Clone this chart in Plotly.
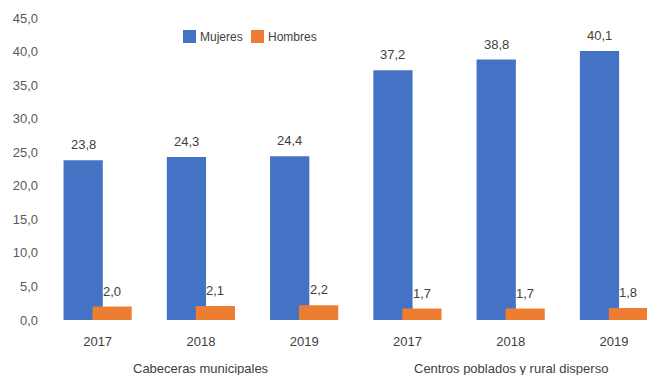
import plotly.graph_objects as go

# Data
years = ["2017", "2018", "2019", "2017", "2018", "2019"]
zones = ["Cabeceras municipales", "Centros poblados y rural disperso"]
series_names = ["Mujeres", "Hombres"]
mujeres = [23.8, 24.3, 24.4, 37.2, 38.8, 40.1]
hombres = [2.0, 2.1, 2.2, 1.7, 1.7, 1.8]
y_ticks = [0, 5, 10, 15, 20, 25, 30, 35, 40, 45]

BLUE = "#4472C4"
ORANGE = "#ED7D31"
FONT = "Liberation Sans, Arial, sans-serif"
LABEL_COLOR = "#404040"

W, H = 647, 375
ML, MR, MT, MB = 46, 0, 18, 55


def px_to_paper(px, py):
    """Figure pixel position -> paper coordinates of the plot area."""
    return (px - ML) / (W - ML - MR), (H - MB - py) / (H - MT - MB)


idx = list(range(len(years)))
shift = 0.14
bar_w = 0.38

fig = go.Figure()
for name, vals, color, off in [(series_names[0], mujeres, BLUE, -shift),
                               (series_names[1], hombres, ORANGE, shift)]:
    xs = [i + off for i in idx]
    fig.add_trace(go.Bar(
        name=name, x=xs, y=vals, width=bar_w,
        marker=dict(color=color, line=dict(width=0)),
        showlegend=False,
    ))
    # value labels above each bar
    for x, v in zip(xs, vals):
        fig.add_annotation(x=x, y=v, xref="x", yref="y",
                           text=f"{v:.1f}".replace(".", ","),
                           showarrow=False, yanchor="bottom", yshift=6,
                           font=dict(size=13, color=LABEL_COLOR, family=FONT))

# Group labels under the year ticks
for center, name in zip([1, 4], zones):
    fig.add_annotation(x=center, y=-0.16, xref="x", yref="paper", text=name,
                       showarrow=False, yanchor="middle",
                       font=dict(size=13, color=LABEL_COLOR, family=FONT))

# Compact legend: colour square followed closely by its label
for left, name, color in [(183, series_names[0], BLUE), (251, series_names[1], ORANGE)]:
    x0, y0 = px_to_paper(left, 43)
    x1, y1 = px_to_paper(left + 13, 30)
    fig.add_shape(type="rect", xref="paper", yref="paper",
                  x0=x0, y0=y0, x1=x1, y1=y1,
                  fillcolor=color, line=dict(width=0))
    tx, ty = px_to_paper(left + 15, 36.5)
    fig.add_annotation(x=tx, y=ty, xref="paper", yref="paper", text=name,
                       showarrow=False, xanchor="left", yanchor="middle",
                       font=dict(size=12, color=LABEL_COLOR, family=FONT))

fig.update_layout(
    width=W, height=H,
    margin=dict(l=ML, r=MR, t=MT, b=MB),
    plot_bgcolor="white", paper_bgcolor="white",
    barmode="overlay", separators=",.",
    font=dict(family=FONT, color="#595959"),
    showlegend=False,
    xaxis=dict(range=[-0.5, 5.32], tickvals=idx, ticktext=years,
               showgrid=False, zeroline=False, showline=False, ticks="",
               ticklabelstandoff=12,
               tickfont=dict(size=13, color=LABEL_COLOR, family=FONT)),
    yaxis=dict(range=[0, 45], tickvals=y_ticks, tickformat=".1f",
               showgrid=False, zeroline=False, showline=False, ticks="",
               ticklabelstandoff=7,
               tickfont=dict(size=13, color="#595959", family=FONT)),
)

fig.write_html("out.html")
